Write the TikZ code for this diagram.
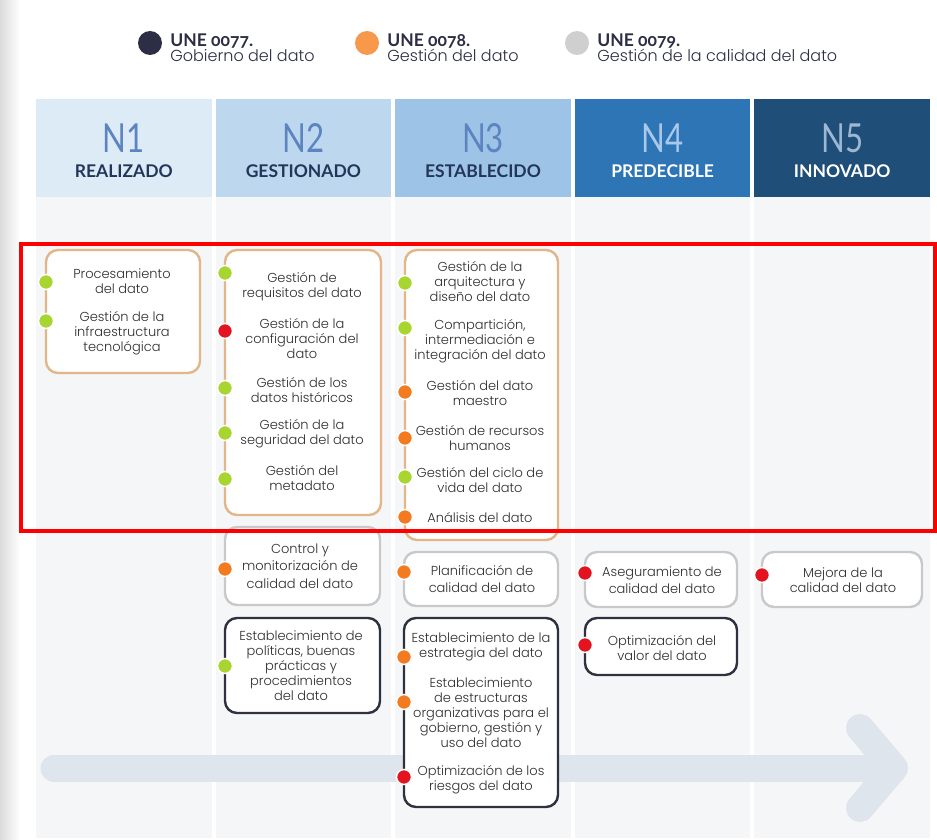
\documentclass[tikz,border=0pt]{standalone}
\usepackage{fontspec}
\setmainfont{Lato}
\newfontfamily\numfont{Lato}[FakeStretch=0.78]
\newfontfamily\legfont{Lato}[Numbers=OldStyle]
\newfontfamily\itemfont{Poppins}[UprightFont=* Light]
\usepackage{tikz}
\usetikzlibrary{positioning}

\definecolor{txtgray}{HTML}{2E2E2E}
\definecolor{colbg}{HTML}{F5F6F8}
\definecolor{arrowbg}{HTML}{DFE5EC}
\definecolor{hdrA}{HTML}{DDEBF7}
\definecolor{hdrB}{HTML}{BDD7EE}
\definecolor{hdrC}{HTML}{9DC3E6}
\definecolor{hdrD}{HTML}{2E75B6}
\definecolor{hdrE}{HTML}{1F4E79}
\definecolor{numlight}{HTML}{5B84C0}
\definecolor{numD}{HTML}{A9C8EA}
\definecolor{numE}{HTML}{9DB7D5}
\definecolor{lbldark}{HTML}{22365A}
\definecolor{boxtan}{HTML}{E3B689}
\definecolor{boxgray}{HTML}{C9C9C9}
\definecolor{boxdark}{HTML}{2F3140}
\definecolor{dotgreen}{HTML}{A8D530}
\definecolor{dotred}{HTML}{E3141F}
\definecolor{dotorange}{HTML}{F47A20}
\definecolor{legnavy}{HTML}{2B2E44}
\definecolor{legorange}{HTML}{F8984A}
\definecolor{leggray}{HTML}{CFCFCF}

\begin{document}
\begin{tikzpicture}[x=1pt, y=-1pt,
    hdr/.style={rectangle, minimum width=175.6, minimum height=98, inner sep=0pt},
    numtxt/.style={font=\numfont\fontsize{40}{40}\selectfont, inner sep=0pt},
    lbltxt/.style={font=\bfseries\fontsize{17.5}{17.5}\selectfont, inner sep=0pt},
    tanbox/.style={draw=boxtan, line width=2.4pt, rounded corners=12pt, fill=white, inner sep=0pt},
    graybox/.style={draw=boxgray, line width=2.4pt, rounded corners=12pt, fill=white, inner sep=0pt},
    darkbox/.style={draw=boxdark, line width=2.4pt, rounded corners=12pt, fill=white, inner sep=0pt},
    item/.style={align=center, text=txtgray, inner sep=0pt, font=\itemfont\fontsize{13}{15}\selectfont},
    dot/.style={circle, minimum size=15, inner sep=0pt, fill=#1, draw=white, line width=1.5pt},
    legdot/.style={circle, minimum size=24, inner sep=0pt, fill=#1},
    legtxt/.style={align=left, anchor=west, inner sep=0pt, text=legnavy}
]
\useasboundingbox (0,0) rectangle (937,840);
\fill[white] (0,0) rectangle (937,840);
\shade[left color=black!14, right color=white] (0,0) rectangle (20,840);

% ====================== LEGEND ======================
\node[legdot=legnavy] (lg1) at (150,43) {};
\node[legdot=legorange] (lg2) at (367,43) {};
\node[legdot=leggray] (lg3) at (577,43) {};
\node[legtxt, right=8pt of lg1.east, yshift=-5pt]
    {{\legfont\bfseries\fontsize{17.5}{15}\selectfont UNE 0077.}\\{\itemfont\fontsize{16}{15}\selectfont Gobierno del dato}};
\node[legtxt, right=8pt of lg2.east, yshift=-5pt]
    {{\legfont\bfseries\fontsize{17.5}{15}\selectfont UNE 0078.}\\{\itemfont\fontsize{16}{15}\selectfont Gestión del dato}};
\node[legtxt, right=8pt of lg3.east, yshift=-5pt]
    {{\legfont\bfseries\fontsize{17.5}{15}\selectfont UNE 0079.}\\{\itemfont\fontsize{16}{15}\selectfont Gestión de la calidad del dato}};

% ====================== COLUMNS ======================
\fill[colbg] (36,197) rectangle (211.6,838);
\fill[colbg] (215.6,197) rectangle (391.2,838);
\fill[colbg] (395.2,197) rectangle (570.8,838);
\fill[colbg] (574.8,197) rectangle (750.4,838);
\fill[colbg] (754.4,197) rectangle (930,838);

% ====================== HEADERS ======================
\node[hdr, fill=hdrA] (h1) at (123.8,148) {};
\node[hdr, fill=hdrB] (h2) at (303.4,148) {};
\node[hdr, fill=hdrC] (h3) at (483.0,148) {};
\node[hdr, fill=hdrD] (h4) at (662.6,148) {};
\node[hdr, fill=hdrE] (h5) at (842.2,148) {};
\node[numtxt, text=numlight] at (123.8,138) {N1};
\node[numtxt, text=numlight] at (303.4,138) {N2};
\node[numtxt, text=numlight] at (483.0,138) {N3};
\node[numtxt, text=numD] at (662.6,138) {N4};
\node[numtxt, text=numE] at (842.2,138) {N5};
\node[lbltxt, text=lbldark] at (123.8,171) {REALIZADO};
\node[lbltxt, text=lbldark] at (303.4,171) {GESTIONADO};
\node[lbltxt, text=lbldark] at (483.0,171) {ESTABLECIDO};
\node[lbltxt, text=white] at (662.6,171) {PREDECIBLE};
\node[lbltxt, text=white] at (842.2,171) {INNOVADO};

% ====================== BACKGROUND ARROW ======================
\draw[arrowbg, line width=27pt, line cap=round] (54,768) -- (880,768);
\draw[arrowbg, line width=28pt, line cap=round, line join=round]
    (860,728) -- (894,768) -- (860,808);

% ====================== BOXES ======================
\node[tanbox, minimum width=154, minimum height=123] (n1a) at (123,311.5) {};
\node[tanbox, minimum width=156, minimum height=265] (n2a) at (303,382.5) {};
\node[tanbox, minimum width=153, minimum height=290] (n3a) at (481.5,395) {};
\node[graybox, minimum width=155, minimum height=78] (n2b) at (302.5,566) {};
\node[darkbox, minimum width=155, minimum height=95] (n2c) at (302.5,665.5) {};
\node[graybox, minimum width=154, minimum height=54] (n3b) at (481,579) {};
\node[darkbox, minimum width=154, minimum height=189] (n3c) at (481,712.5) {};
\node[graybox, minimum width=152, minimum height=55] (n4a) at (661,579.5) {};
\node[darkbox, minimum width=152, minimum height=57] (n4b) at (661,646.5) {};
\node[graybox, minimum width=160, minimum height=55] (n5a) at (842,579.5) {};

% ---- N1
\node[item] (procesa) at (122,281) {Procesamiento\\del dato};
\node[item] (infra) at (122,333) {Gestión de la\\infraestructura\\tecnológica};
\node[dot=dotgreen] at (46,282) {};
\node[dot=dotgreen] at (46,321) {};

% ---- N2
\node[item] (requis) at (302,287) {Gestión de\\requisitos del dato};
\node[item] (config) at (302,339) {Gestión de la\\configuración del\\dato};
\node[item] (histor) at (302,390) {Gestión de los\\datos históricos};
\node[item] (segur) at (302,434) {Gestión de la\\seguridad del dato};
\node[item] (metad) at (302,478) {Gestión del\\metadato};
\node[dot=dotgreen] at (225,273) {};
\node[dot=dotred] at (225,331) {};
\node[dot=dotgreen] at (225,388) {};
\node[dot=dotgreen] at (225,433) {};
\node[dot=dotgreen] at (225,479) {};
\node[item, font=\itemfont\fontsize{13}{17.5}\selectfont] (control) at (300,566) {Control y\\monitorización de\\calidad del dato};
\node[dot=dotorange] at (225,569) {};
\node[item] (politic) at (301,666) {Establecimiento de\\políticas, buenas\\prácticas y\\procedimientos\\del dato};
\node[dot=dotgreen] at (225,666) {};

% ---- N3
\node[item] (arquit) at (480,282) {Gestión de la\\arquitectura y\\diseño del dato};
\node[item] (compart) at (480,341) {Compartición,\\intermediación e\\integración del dato};
\node[item] (maestro) at (480,393) {Gestión del dato\\maestro};
\node[item] (recurs) at (480,438) {Gestión de recursos\\humanos};
\node[item] (ciclo) at (480,480) {Gestión del ciclo de\\vida del dato};
\node[item] (analis) at (480,518) {Análisis del dato};
\node[dot=dotgreen] at (405,283) {};
\node[dot=dotgreen] at (405,328) {};
\node[dot=dotorange] at (405,392) {};
\node[dot=dotorange] at (405,438) {};
\node[dot=dotgreen] at (405,477) {};
\node[dot=dotorange] at (405,517) {};
\node[item, font=\itemfont\fontsize{13}{17.5}\selectfont] (planif) at (482,579) {Planificación de\\calidad del dato};
\node[dot=dotorange] at (404,572) {};
\node[item] (estrat) at (481,647) {Establecimiento de la\\estrategia del dato};
\node[item] (estruct) at (481,713) {Establecimiento\\de estructuras\\organizativas para el\\gobierno, gestión y\\uso del dato};
\node[item] (riesgo) at (481,780) {Optimización de los\\riesgos del dato};
\node[dot=dotorange] at (404,657) {};
\node[dot=dotorange] at (404,702) {};
\node[dot=dotred] at (404,777) {};

% ---- N4 & N5
\node[item, font=\itemfont\fontsize{13}{17}\selectfont] (asegur) at (662,580) {Aseguramiento de\\calidad del dato};
\node[dot=dotred] at (585,573) {};
\node[item] (valor) at (662,648) {Optimización del\\valor del dato};
\node[dot=dotred] at (585,645) {};
\node[item] (mejora) at (843,580) {Mejora de la\\calidad del dato};
\node[dot=dotred] at (762,575) {};

% ====================== HIGHLIGHT ======================
\draw[red, line width=4.5pt] (21,244) rectangle (935,531);

\end{tikzpicture}
\end{document}
